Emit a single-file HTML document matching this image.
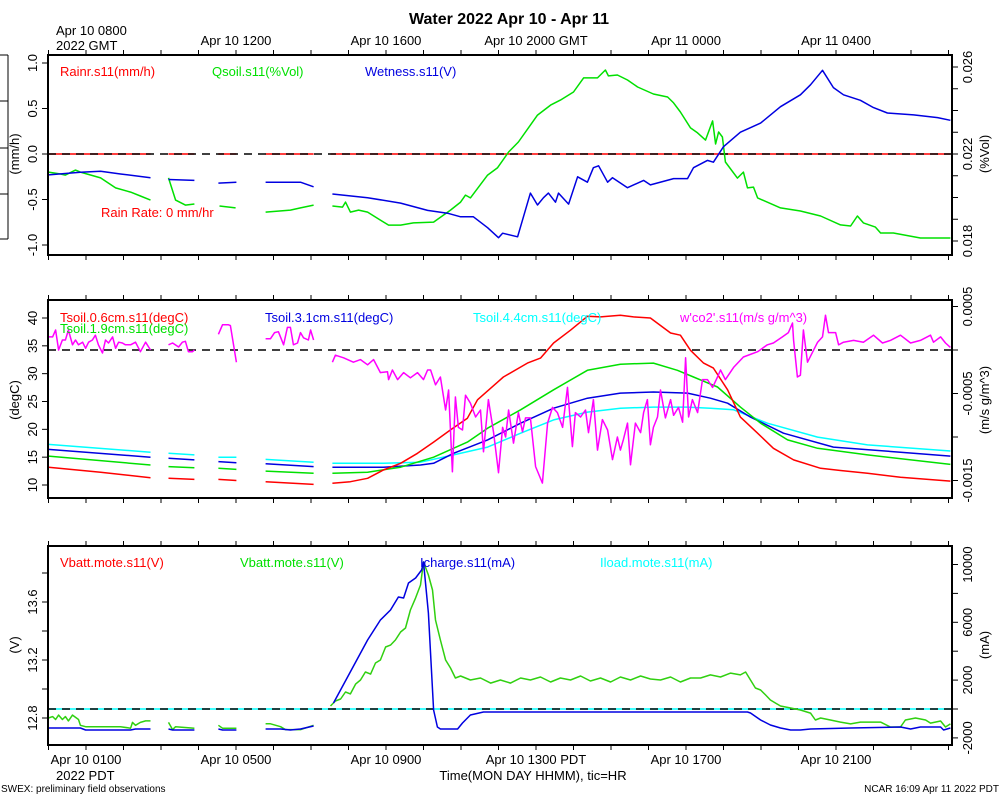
<!DOCTYPE html>
<html><head><meta charset="utf-8"><style>
html,body{margin:0;padding:0;background:#fff;}
svg{display:block;font-family:"Liberation Sans",Arial,sans-serif;}
</style></head><body>
<svg id="chart" width="1000" height="800" viewBox="0 0 1000 800" xmlns="http://www.w3.org/2000/svg">
<rect x="0" y="0" width="1000" height="800" fill="#fff"/>
<text x="509" y="24" font-size="16" font-weight="bold" text-anchor="middle">Water 2022 Apr 10 - Apr 11</text>
<text x="56" y="35" font-size="13">Apr 10 0800</text>
<text x="56" y="50" font-size="13">2022 GMT</text>
<text x="56" y="780" font-size="13">2022 PDT</text>
<text x="533" y="780" font-size="13" text-anchor="middle">Time(MON DAY HHMM), tic=HR</text>
<text x="1" y="792" font-size="10">SWEX: preliminary field observations</text>
<text x="999" y="792" font-size="10" text-anchor="end">NCAR 16:09 Apr 11 2022 PDT</text>
<g stroke="#000" stroke-width="1">
<line x1="8" y1="55" x2="8" y2="239"/><line x1="0" y1="55" x2="8" y2="55"/><line x1="0" y1="101" x2="8" y2="101"/><line x1="0" y1="148" x2="8" y2="148"/><line x1="0" y1="194" x2="8" y2="194"/><line x1="0" y1="239" x2="8" y2="239"/>
</g>
</svg>
<script>
// ---- time axis ----
const hourTicks = [0,1,2,3,4,5,6,7,8,9,10,11,12,13,14,15,16,17,18,19,20,21,22,23,24];
const gmtLabelHours = [5,9,13,17,21];
const gmtLabels = ["Apr 10 1200","Apr 10 1600","Apr 10 2000 GMT","Apr 11 0000","Apr 11 0400"];
const pdtLabelHours = [1,5,9,13,17,21];
const pdtLabels = ["Apr 10 0100","Apr 10 0500","Apr 10 0900","Apr 10 1300 PDT","Apr 10 1700","Apr 10 2100"];

// ---- panel 1: water ----
const rainT = [0,2.72,null,3.2,3.89,null,4.53,5.01,null,5.79,7.07,null,7.52,24.05];
const rainV = [0,0,null,0,0,null,0,0,null,0,0,null,0,0];
const wetT = [0,.85,1.39,1.92,2.72,null,3.2,3.89,null,4.53,5.01,null,5.79,6.72,7.07,null,7.57,8.51,9.39,10.11,10.64,10.99,11.33,11.71,12,12.11,12.51,12.85,13.04,13.2,13.33,13.52,13.6,13.87,14.11,14.37,14.53,14.67,14.91,15.04,15.44,15.87,16.05,16.67,17.04,17.2,17.57,17.73,18,18.45,18.99,19.52,20.05,20.32,20.64,20.93,21.2,21.65,22,22.37,23.07,23.71,24.05];
const wetV = [-.23,-.2,-.19,-.22,-.26,null,-.28,-.29,null,-.32,-.31,null,-.31,-.31,-.36,null,-.44,-.48,-.54,-.62,-.65,-.69,-.69,-.81,-.92,-.87,-.91,-.43,-.56,-.48,-.43,-.53,-.43,-.55,-.25,-.31,-.15,-.13,-.31,-.26,-.37,-.29,-.34,-.27,-.27,-.15,-.07,-.09,.08,.24,.34,.52,.65,.76,.92,.73,.65,.59,.51,.45,.43,.4,.37];
const qsoilT = [0,.32,.45,.72,.85,1.39,1.79,2.19,2.45,2.72,null,3.2,3.39,3.65,3.89,null,4.56,4.99,null,5.79,6.45,6.72,7.07,null,7.57,7.84,7.92,8.05,8.27,8.51,8.85,9.07,9.39,9.73,10.27,10.72,10.99,11.12,11.25,11.71,11.97,12.27,12.53,13.04,13.39,13.65,14,14.27,14.64,14.85,14.93,15.17,15.44,15.71,16.13,16.51,16.67,16.85,17.12,17.31,17.52,17.71,17.79,17.87,17.97,18.05,18.37,18.53,18.64,18.8,18.91,19.52,20.05,20.59,21.12,21.39,21.57,21.73,22.05,22.19,22.53,23.25,24.05];
const qsoilV = [.02117,.02108,.02103,.02126,.02117,.0209,.02044,.02025,.02007,.01988,null,.0209,.01988,.01965,.0197,null,.01961,.01952,null,.01933,.01942,.01952,.01965,null,.01961,.01956,.01979,.01933,.01942,.01933,.01896,.01873,.01873,.01883,.01887,.01942,.01979,.02011,.01998,.02103,.02136,.02209,.02255,.02379,.02425,.02448,.02485,.0255,.0255,.02586,.02559,.02563,.0254,.02508,.02476,.02462,.02435,.02393,.0232,.02297,.02264,.02352,.02246,.02301,.02278,.02163,.02089,.02117,.02044,.02048,.01998,.01952,.01938,.01915,.01874,.01869,.01915,.01883,.01864,.01837,.01837,.01814,.01814];
const p1LeftTicks = [-1,-0.5,0,0.5,1];
const p1LeftLabels = ["-1.0","-0.5","0.0","0.5","1.0"];
const p1RightTicks = [0.018,0.019,0.02,0.021,0.022,0.023,0.024,0.025,0.026];
const p1RightLabelVals = [0.018,0.022,0.026];
const p1RightLabels = ["0.018","0.022","0.026"];

// ---- panel 2: soil temperature & flux ----
const ts06T = [0,1.39,2.72,null,3.2,3.89,null,4.53,5.01,null,5.79,7.07,null,7.57,8.05,8.51,8.93,9.39,9.84,10.27,10.72,11.17,11.44,12.13,12.77,13.12,13.47,13.92,14.37,14.72,15.25,15.6,16.05,16.59,16.85,17.12,17.47,17.73,18.11,18.45,18.91,19.33,19.87,20.59,21.12,21.84,22.72,24.05];
const ts06V = [13.2,12.3,11.3,null,11.2,11.0,null,11.0,10.8,null,10.6,10.1,null,10.3,10.6,11.2,12.7,13.9,15.7,17.7,19.9,22,25.3,29.4,31.9,32.8,35.5,37.8,40.3,40.2,40.5,40.2,40,37.3,36.9,34.2,31.9,31,27.1,22.2,19.3,16.6,14.5,13,12.6,12.1,11.4,10.7];
const ts19T = [0,2.72,null,3.2,3.89,null,4.53,5.01,null,5.79,7.07,null,7.57,8.51,9.39,10.27,11.17,11.71,12.59,13.47,14.37,15.25,16.13,16.77,17.2,17.84,18.45,18.99,19.71,20.51,21.84,24.05];
const ts19V = [15.2,13.6,null,13.3,13.1,null,13.0,12.8,null,12.5,12.1,null,12.1,12.3,13.2,15,17.7,20.2,23.5,27.1,30.6,31.7,31.9,30.6,29.4,27.6,24,21.1,18.1,16.6,15.4,13.7];
const ts31T = [0,2.72,null,3.2,3.89,null,4.53,5.01,null,5.79,7.07,null,7.57,8.93,9.92,10.27,10.8,11.71,12.59,13.47,14.37,15.25,16.13,17.04,17.65,18.11,18.72,19.6,20.93,22.72,24.05];
const ts31V = [16.4,15.0,null,14.8,14.5,null,14.2,14.0,null,13.8,13.3,null,13.2,13.2,13.6,13.9,15.7,18.1,21.1,23.8,25.6,26.5,26.7,26.5,25.6,24.7,22.2,19.3,16.8,15.9,15.2];
const ts44T = [0,2.72,null,3.2,3.89,null,4.53,5.01,null,5.79,7.07,null,7.57,8.93,9.92,10.8,11.71,12.59,13.47,14.37,15.25,16.13,17.04,17.65,18.27,19.17,20.51,21.84,24.05];
const ts44V = [17.3,15.9,null,15.7,15.4,null,15.0,15.0,null,14.6,14.1,null,13.9,13.9,14.1,15.4,16.8,19.3,21.7,23.1,23.8,24.0,24.0,23.8,23.5,21.1,18.6,17.2,16.1];
// w'co2' values in units of 1e-4 m/s g/m^3
const wco2T = [0,.11,.19,.27,.37,.45,.53,.64,.72,.8,.91,.99,1.07,1.17,1.25,1.33,1.44,1.52,1.6,1.71,1.79,1.87,1.97,2.05,2.19,2.32,2.45,2.59,2.72,null,
3.2,3.31,3.47,3.57,3.65,3.73,3.84,3.89,null,4.53,4.64,4.8,4.85,5.01,null,5.79,5.92,6.03,6.13,6.27,6.37,6.45,6.53,6.64,6.72,6.8,6.93,6.99,7.07,null,
7.57,7.65,7.87,8.13,8.32,8.51,8.67,8.85,9.04,9.07,9.17,9.31,9.47,9.65,9.84,10,10.11,10.19,10.32,10.45,10.59,10.67,10.77,10.85,10.93,11.04,11.12,11.25,11.39,11.52,11.6,11.73,11.87,12,12.11,12.19,12.27,12.4,12.53,12.64,12.72,12.85,12.99,13.17,13.31,13.44,13.57,13.71,13.84,13.97,14.05,14.19,14.32,14.4,14.53,14.64,14.77,14.91,15.04,15.17,15.25,15.33,15.44,15.52,15.65,15.79,15.87,15.97,16.05,16.13,16.24,16.32,16.45,16.59,16.67,16.8,16.91,16.99,17.07,17.17,17.31,17.44,17.57,17.71,17.84,17.92,18.05,18.27,18.53,18.91,19.17,19.33,19.57,19.73,19.84,19.87,19.97,20.05,20.13,20.24,20.51,20.64,20.72,20.8,20.99,21.07,21.2,21.47,21.73,22,22.24,22.45,22.72,22.99,23.25,23.52,23.6,23.79,23.92,24.05];
const wco2V = [1.5,1.5,2.3,0,1.15,1.15,2.3,.6,1.15,.6,.9,.2,.9,1.15,1.7,.6,-.35,1.15,.8,1.5,.2,.9,.8,.6,.6,.9,-.2,.9,0,null,
.6,.8,.35,.9,1.0,-.2,-.2,0,null,1.8,2.9,2.9,2.8,-1.4,null,1.3,1.3,2.0,2.1,.6,2.6,2.6,.6,.8,2.0,1.4,1.15,2.3,1.15,null,
-1.4,-.6,-.9,-1.4,-1.1,-1.7,-1.1,-2.6,-2.5,-3.4,-2.3,-3.4,-2.6,-3.2,-2.6,-3.4,-2.3,-2.3,-4.0,-3.1,-6.9,-4.6,-14.0,-5.4,-8.9,-9.2,-5.2,-6.1,-7.7,-6.9,-11.7,-5.7,-9.5,-14.1,-8.9,-10.0,-6.9,-10.7,-7.2,-9.4,-7.8,-7.8,-13.4,-15.3,-8.4,-6.6,-7.2,-8.9,-4.3,-11.1,-7.2,-7.7,-6.9,-9.5,-5.7,-11.5,-8.0,-9.2,-12.6,-10.0,-11.5,-10.3,-8.4,-13.2,-8.4,-9.5,-7.2,-5.7,-10.9,-8.9,-7.7,-4.6,-7.8,-5.7,-7.5,-6.6,-8.3,-.9,-7.7,-5.7,-7.2,-3.4,-3.4,-4.3,-3.1,-2.3,-3.4,-2.0,-.8,-.2,.6,.8,1.5,2.0,3.1,1.1,-3.1,-2.9,2.3,-1.4,.9,1.5,4.0,2.0,2.0,.6,.9,1.1,.9,1.7,.8,1.1,1.7,.8,1.1,1.7,.9,1.5,.8,.3];
const p2LeftTicks = [10,15,20,25,30,35,40];
const p2RightTicks = [5,0,-5,-10,-15];
const p2RightLabelVals = [5,-5,-15];
const p2RightLabels = ["0.0005","-0.0005","-0.0015"];

// ---- panel 3: power ----
const vbattT = [0,.11,.19,.27,.37,.45,.53,.64,.8,.85,.99,1.39,1.92,2.19,2.24,2.32,2.45,2.59,2.72,null,3.2,3.31,3.39,3.89,null,4.53,4.64,5.01,null,5.79,5.92,6.19,6.32,6.72,7.07,null,
7.52,7.65,7.79,7.92,8.05,8.19,8.32,8.45,8.59,8.72,8.85,8.99,9.12,9.25,9.39,9.52,9.65,9.79,9.92,10,10.13,10.24,10.32,10.45,10.59,10.72,10.85,10.99,11.25,11.52,11.79,12.05,12.32,12.59,12.85,13.12,13.39,13.65,13.92,14.19,14.45,14.72,14.99,15.25,15.52,15.79,16.05,16.32,16.59,16.85,17.12,17.39,17.65,17.92,18.19,18.45,18.59,18.72,18.85,18.99,19.12,19.25,19.39,19.52,19.79,20.05,20.32,20.45,20.59,20.85,21.12,21.39,21.65,21.92,22.19,22.45,22.72,22.85,23.12,23.39,23.52,23.79,23.92,24.05];
const vbattV = [12.80,12.81,12.79,12.82,12.79,12.81,12.78,12.82,12.79,12.75,12.74,12.74,12.74,12.73,12.77,12.75,12.77,12.78,12.78,null,12.77,12.72,12.74,12.73,null,12.75,12.73,12.73,null,12.76,12.76,12.74,12.72,12.72,12.75,null,
12.883,12.917,12.931,12.979,12.966,13.034,13.062,13.117,13.103,13.179,13.2,13.29,13.303,13.338,13.393,13.421,13.545,13.628,13.717,13.876,13.786,13.683,13.476,13.338,13.2,13.145,13.076,13.09,13.062,13.076,13.041,13.062,13.041,13.076,13.062,13.083,13.048,13.076,13.062,13.09,13.055,13.076,13.048,13.083,13.062,13.09,13.069,13.062,13.083,13.048,13.076,13.076,13.097,13.083,13.11,13.097,13.117,13.062,13.007,12.993,12.959,12.924,12.903,12.883,12.869,12.855,12.834,12.786,12.8,12.786,12.772,12.759,12.772,12.772,12.772,12.738,12.738,12.786,12.8,12.786,12.765,12.779,12.738,12.759];
const ichgT = [0,.85,.99,2.19,2.32,2.72,null,3.2,3.31,3.89,null,4.53,4.64,5.01,null,5.79,6.19,6.45,6.72,7.07,null,7.6,8.51,8.85,9.12,9.33,9.47,9.6,9.79,9.95,10.0,10.13,10.27,10.37,10.45,10.91,11.04,11.25,11.6,12.05,18.64,18.72,18.99,19.25,19.52,19.79,20.05,20.32,21.39,22.72,22.99,23.25,23.79,23.87,24.05];
const ichgV = [-1315,-1315,-1453,-1453,-1384,-1384,null,-1384,-1453,-1453,null,-1384,-1453,-1453,null,-1384,-1384,-1453,-1384,-1176,null,415,4775,6160,6850,7750,7680,8720,9065,9620,10170,6640,-70,-1245,-1384,-1384,-970,-415,-208,-208,-208,-277,-760,-1107,-1315,-1453,-1453,-1384,-1315,-1245,-1384,-1245,-1245,-1453,-1315];
const iloadT = [0,24.1];
const iloadV = [0,0];
const p3LeftTicks = [12.8,13.0,13.2,13.4,13.6,13.8];
const p3LeftLabelVals = [12.8,13.2,13.6];
const p3LeftLabels = ["12.8","13.2","13.6"];
const p3RightTicks = [-2000,0,2000,4000,6000,8000,10000];
const p3RightLabelVals = [-2000,2000,6000,10000];
const p3RightLabels = ["-2000","2000","6000","10000"];

// ---- scales ----
const X0 = 48.5, PXH = 37.5, XL = 48, XR = 952;
function xs(h){ return X0 + PXH*h; }
const P1 = {top:55,bottom:255};
const P2 = {top:300,bottom:498};
const P3 = {top:546,bottom:745};
function y1L(v){ return 154 - 91*v; }
function y1R(q){ return 154 - (q-0.022)*21750; }
function y2L(d){ return 485 - (d-10)*5.567; }
function y2R(w){ return 350 - w*8.7; }
function y3L(v){ return 718 - (v-12.8)*145; }
function y3R(m){ return 709 - m*0.01445; }

const NS = "http://www.w3.org/2000/svg";
const svg = document.getElementById('chart');
function mk(tag, attrs, parent){
  const e = document.createElementNS(NS, tag);
  for (const k in attrs) e.setAttribute(k, attrs[k]);
  (parent||svg).appendChild(e);
  return e;
}
let clipN = 0;
function panel(P, name){
  const g = mk('g', {});
  
  
  clipN++;
  const cp = mk('clipPath', {id:'clip'+clipN});
  mk('rect', {x:XL, y:P.top, width:XR-XL, height:P.bottom-P.top}, cp);
  const plot = mk('g', {'clip-path':'url(#clip'+clipN+')'}, g);
  return {g, plot};
}
function series(parent, T, V, xf, yf, color, name, width){
  let d = '', pen = false;
  for (let i=0;i<T.length;i++){
    if (T[i]===null || V[i]===null){ pen=false; continue; }
    d += (pen?'L':'M') + xf(T[i]).toFixed(1) + ' ' + yf(V[i]).toFixed(1) + ' ';
    pen = true;
  }
  const p = mk('path', {d:d, fill:'none', stroke:color, 'stroke-width':width||1.5, 'stroke-linejoin':'round'}, parent);
  
  
  return p;
}
function dashed(parent, y, name){
  const l = mk('line', {x1:XL, x2:XR, y1:y, y2:y, stroke:'#000', 'stroke-width':1.5, 'stroke-dasharray':'8,6'}, parent);
  
  
}
function frame(P, g){
  const r = mk('rect', {x:XL, y:P.top, width:XR-XL, height:P.bottom-P.top, fill:'none', stroke:'#000', 'stroke-width':2}, g);
  
  
  for (const h of hourTicks){
    const x = xs(h);
    mk('line', {x1:x, x2:x, y1:P.top-5, y2:P.top, stroke:'#000', 'stroke-width':1}, g);
    mk('line', {x1:x, x2:x, y1:P.bottom, y2:P.bottom+5, stroke:'#000', 'stroke-width':1}, g);
  }
}
function yTicks(g, ticks, yf, side){
  for (const t of ticks){
    const y = yf(t);
    if (side==='L') mk('line', {x1:XL-6, x2:XL, y1:y, y2:y, stroke:'#000', 'stroke-width':1}, g);
    else mk('line', {x1:XR, x2:XR+6, y1:y, y2:y, stroke:'#000', 'stroke-width':1}, g);
  }
}
function yLabels(g, vals, labels, yf, x, name){
  for (let i=0;i<vals.length;i++){
    const y = yf(vals[i]);
    const t = mk('text', {x:0, y:0, 'font-size':13, 'text-anchor':'middle', transform:'translate('+x+','+y+') rotate(-90)'}, g);
    t.textContent = labels[i];
    
    
  }
}
function axisTitle(g, text, x, y, name){
  const t = mk('text', {x:0, y:0, 'font-size':13, 'text-anchor':'middle', transform:'translate('+x+','+y+') rotate(-90)'}, g);
  t.textContent = text;
  
  
}
function legend(g, text, x, y, color, name){
  const t = mk('text', {x:x, y:y, 'font-size':13, fill:color}, g);
  t.textContent = text;
  
  
}

// ---- Panel 1 ----
const p1 = panel(P1, 'water-panel');
series(p1.plot, rainT, rainV, xs, y1L, '#ff0000', 'rain-rate-line');
dashed(p1.plot, y1L(0), 'zero-line-water');
series(p1.plot, qsoilT, qsoilV, xs, y1R, '#00e000', 'qsoil-line');
series(p1.plot, wetT, wetV, xs, y1L, '#0000e0', 'wetness-line');
frame(P1, p1.g);
yTicks(p1.g, p1LeftTicks, y1L, 'L');
yLabels(p1.g, p1LeftTicks, p1LeftLabels, y1L, 37, 'left-tick-label-water');
yTicks(p1.g, p1RightTicks, y1R, 'R');
yLabels(p1.g, p1RightLabelVals, p1RightLabels, y1R, 972, 'right-tick-label-water');
axisTitle(p1.g, '(mm/h)', 19, 154, 'y-axis-title-mmh');
axisTitle(p1.g, '(%Vol)', 989, 154, 'y-axis-title-vol');
legend(p1.g, 'Rainr.s11(mm/h)', 60, 76, '#ff0000', 'legend-rainr');
legend(p1.g, 'Qsoil.s11(%Vol)', 212, 76, '#00e000', 'legend-qsoil');
legend(p1.g, 'Wetness.s11(V)', 365, 76, '#0000e0', 'legend-wetness');
legend(p1.g, 'Rain Rate: 0 mm/hr', 101, 217, '#ff0000', 'rain-rate-note');
for (let i=0;i<gmtLabelHours.length;i++){
  const t = mk('text', {x:xs(gmtLabelHours[i]), y:45, 'font-size':13, 'text-anchor':'middle'});
  t.textContent = gmtLabels[i];
  
  
}

// ---- Panel 2 ----
const p2 = panel(P2, 'soil-temp-panel');
dashed(p2.plot, y2R(0), 'zero-line-flux');
series(p2.plot, ts44T, ts44V, xs, y2L, '#00ffff', 'tsoil-4.4cm-line');
series(p2.plot, ts31T, ts31V, xs, y2L, '#0000e0', 'tsoil-3.1cm-line');
series(p2.plot, ts19T, ts19V, xs, y2L, '#00e000', 'tsoil-1.9cm-line');
series(p2.plot, ts06T, ts06V, xs, y2L, '#ff0000', 'tsoil-0.6cm-line');
series(p2.plot, wco2T, wco2V, xs, y2R, '#ff00ff', 'wco2-flux-line');
frame(P2, p2.g);
yTicks(p2.g, p2LeftTicks, y2L, 'L');
yLabels(p2.g, p2LeftTicks, p2LeftTicks.map(String), y2L, 37, 'left-tick-label-temp');
yTicks(p2.g, p2RightTicks, y2R, 'R');
yLabels(p2.g, p2RightLabelVals, p2RightLabels, y2R, 972, 'right-tick-label-flux');
axisTitle(p2.g, '(degC)', 19, 400, 'y-axis-title-degc');
axisTitle(p2.g, '(m/s g/m^3)', 989, 400, 'y-axis-title-flux');
legend(p2.g, 'Tsoil.0.6cm.s11(degC)', 60, 322, '#ff0000', 'legend-tsoil-0.6');
legend(p2.g, 'Tsoil.1.9cm.s11(degC)', 60, 333, '#00e000', 'legend-tsoil-1.9');
legend(p2.g, 'Tsoil.3.1cm.s11(degC)', 265, 322, '#0000e0', 'legend-tsoil-3.1');
legend(p2.g, 'Tsoil.4.4cm.s11(degC)', 473, 322, '#00ffff', 'legend-tsoil-4.4');
legend(p2.g, "w'co2'.s11(m/s g/m^3)", 680, 322, '#ff00ff', 'legend-wco2');

// ---- Panel 3 ----
const p3 = panel(P3, 'power-panel');
series(p3.plot, iloadT, iloadV, xs, y3R, '#00ffff', 'iload-line');
dashed(p3.plot, y3R(0), 'zero-line-current');
series(p3.plot, vbattT, vbattV, xs, y3L, '#30d010', 'vbatt-line');
series(p3.plot, ichgT, ichgV, xs, y3R, '#0000e0', 'icharge-line');
frame(P3, p3.g);
yTicks(p3.g, p3LeftTicks, y3L, 'L');
yLabels(p3.g, p3LeftLabelVals, p3LeftLabels, y3L, 37, 'left-tick-label-volt');
yTicks(p3.g, p3RightTicks, y3R, 'R');
yLabels(p3.g, p3RightLabelVals, p3RightLabels, y3R, 972, 'right-tick-label-ma');
axisTitle(p3.g, '(V)', 19, 645, 'y-axis-title-v');
axisTitle(p3.g, '(mA)', 989, 645, 'y-axis-title-ma');
legend(p3.g, 'Vbatt.mote.s11(V)', 60, 567, '#ff0000', 'legend-vbatt-red');
legend(p3.g, 'Vbatt.mote.s11(V)', 240, 567, '#00e000', 'legend-vbatt-green');
legend(p3.g, 'Icharge.s11(mA)', 420, 567, '#0000e0', 'legend-icharge');
legend(p3.g, 'Iload.mote.s11(mA)', 600, 567, '#00ffff', 'legend-iload');
for (let i=0;i<pdtLabelHours.length;i++){
  const t = mk('text', {x:xs(pdtLabelHours[i]), y:764, 'font-size':13, 'text-anchor':'middle'});
  t.textContent = pdtLabels[i];
  
  
}
</script>
</body></html>
